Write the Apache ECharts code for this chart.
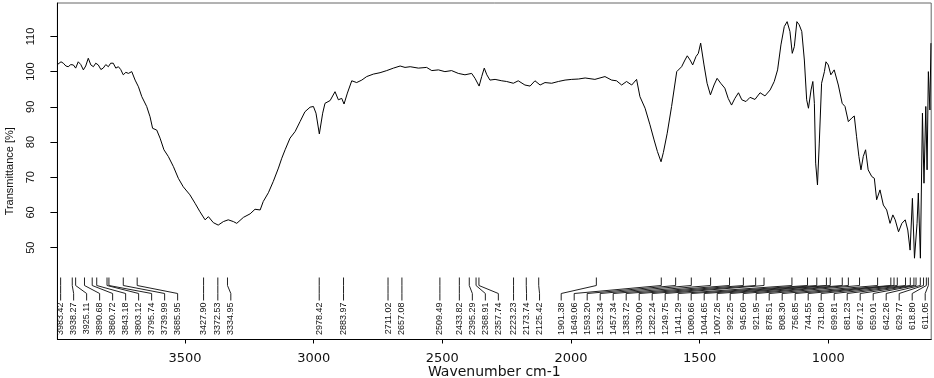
<!DOCTYPE html>
<html>
<head>
<meta charset="utf-8">
<script src="https://cdn.jsdelivr.net/npm/echarts@6/dist/echarts.min.js"></script>
<style>
html,body{margin:0;padding:0;background:#fff;}
#chart{width:934px;height:378px;}
</style>
</head>
<body>
<div id="chart"></div>
<script>
// ---- Data ----
const wavenumbers = [
3996,3992,3982,3973,3963,3954,3944,3934,3925,3915,3905,3895,3886,3876,3866,3856,3847,3837,3827,3818,
3808,3798,3789,3779,3769,3759,3750,3740,3730,3720,3707,3694,3681,3668,3649,3636,3626,3610,3597,3582,
3565,3545,3526,3507,3481,3461,3442,3422,3409,3390,3371,3351,3332,3312,3299,3273,3247,3228,3208,3196,
3176,3157,3137,3124,3111,3092,3072,3053,3034,3014,3001,2991,2978,2965,2956,2936,2917,2904,2891,2882,
2869,2852,2833,2813,2794,2768,2742,2716,2690,2664,2645,2625,2593,2561,2541,2515,2490,2464,2438,2412,
2386,2373,2357,2347,2337,2327,2315,2295,2269,2250,2224,2205,2179,2159,2140,2120,2101,2075,2049,2023,
1997,1971,1945,1907,1868,1842,1823,1803,1784,1764,1745,1732,1712,1693,1677,1664,1650,1641,1626,1609,
1589,1570,1557,1548,1537,1527,1514,1505,1496,1483,1471,1458,1444,1432,1418,1402,1389,1376,1363,1349,
1336,1320,1304,1285,1265,1246,1226,1210,1197,1184,1171,1160,1149,1140,1132,1122,1113,1103,1093,1084,
1077,1067,1060,1054,1049,1042,1035,1026,1015,1009,1000,990,977,961,946,935,922,909,899,890,
881,873,864,855,845,831,821,812,799,786,773,760,749,740,727,714,701,691,682,673,
665,655,650,642,634,628,621,616,611,605,601
];
const transmittance = [
102.0,101.9,102.8,102.4,101.6,101.4,102.0,101.9,101.0,102.8,102.0,100.5,101.6,103.8,101.9,101.4,102.4,101.9,100.6,101.0,
102.0,101.4,102.4,102.4,101.0,101.4,100.6,99.1,99.8,99.5,100.0,97.6,95.7,92.9,90.1,87.2,83.9,83.4,81.1,77.8,
75.9,73.0,69.7,67.3,65.0,62.6,60.2,57.9,58.8,57.1,56.4,57.4,57.9,57.4,56.9,58.6,59.6,60.9,60.7,63.1,
65.6,68.8,72.6,75.4,77.8,81.1,83.0,85.8,88.6,89.9,90.1,88.2,82.3,88.2,91.0,91.8,94.3,92.0,92.4,90.8,
93.9,97.4,96.9,97.6,98.6,99.3,99.7,100.3,101.0,101.6,101.2,101.4,101.0,101.2,100.3,100.5,100.0,100.3,99.5,99.1,
99.5,98.1,95.9,98.6,101.0,99.1,97.6,97.8,97.4,97.2,96.7,97.4,96.2,95.9,97.4,96.2,96.9,96.7,97.2,97.6,
97.8,97.9,98.2,97.8,98.6,97.6,97.4,96.2,97.2,96.2,97.8,92.9,89.6,84.9,80.6,77.3,74.4,77.0,82.5,90.1,
100.0,101.4,103.3,104.5,103.3,101.9,104.3,105.2,108.1,101.9,96.7,93.4,96.2,98.1,96.7,95.3,92.4,90.5,92.4,94.0,
92.0,91.5,92.7,92.1,94.0,93.1,94.8,97.2,100.5,107.6,112.8,114.2,111.4,105.2,107.1,114.2,113.3,111.4,103.3,92.0,
89.6,94.8,97.2,91.0,74.0,67.8,79.7,96.7,100.0,102.8,101.9,99.1,100.5,96.2,91.0,90.1,85.8,86.8,87.4,81.5,
75.9,72.1,75.9,77.8,72.1,70.2,69.7,63.6,66.4,62.1,60.7,56.9,59.3,57.9,54.5,56.9,57.9,55.0,49.3,64.0,
47.0,56.9,65.5,47.0,88.2,68.3,90.1,72.1,100.0,89.1,108.1
];
const peakWavenumbers = [
3983.42,3938.27,3925.11,3890.68,3860.72,3843.18,3803.12,3795.74,3739.99,3685.95,
3427.90,3372.53,3334.95,2978.42,2883.97,2711.02,2657.08,2509.49,2433.82,2395.29,
2368.91,2357.74,2223.23,2173.74,2125.42,1901.38,1649.06,1593.20,1532.34,1457.34,
1383.72,1330.00,1282.24,1249.75,1141.29,1080.66,1044.65,1007.26,992.25,945.60,
921.95,878.51,808.30,756.85,744.55,731.80,699.81,681.23,667.12,659.01,
642.26,629.77,618.80,611.05
];
const xTickValues = [3500, 3000, 2500, 2000, 1500, 1000];
const yTickValues = [50, 60, 70, 80, 90, 100, 110];
const xMin = 600, xMax = 3996;
const yMin = 23.9, yMax = 119.5;

// ---- Chart ----
const chart = echarts.init(document.getElementById('chart'), null, {renderer: 'canvas'});
const spectrum = wavenumbers.map((w, i) => [w, transmittance[i]]);
const measureCtx = document.createElement('canvas').getContext('2d');
function textWidth(s, font) { measureCtx.font = font; return measureCtx.measureText(s).width; }

function layoutPeaks(api) {
  const xs = peakWavenumbers.map(w => api.coord([w, yMin])[0]);
  const gap = 13;
  const pos = xs.slice();
  for (let i = 1; i < pos.length; i++) pos[i] = Math.max(pos[i], pos[i - 1] + gap);
  const rightLimit = api.coord([xMin, yMin])[0] - 6;
  pos[pos.length - 1] = Math.min(pos[pos.length - 1], rightLimit);
  for (let i = pos.length - 2; i >= 0; i--) pos[i] = Math.min(pos[i], pos[i + 1] - gap);
  return {xs, pos};
}

const yLabelFont = '11px "Liberation Sans"';

const option = {
  animation: false,
  backgroundColor: '#fff',
  grid: {left: 57.4, right: 2.8, top: 3, bottom: 38.5, containLabel: false, outerBoundsMode: 'none',
         show: true, borderColor: '#666', borderWidth: 1},
  xAxis: {
    type: 'value', inverse: true, min: xMin, max: xMax,
    name: 'Wavenumber cm-1', nameLocation: 'middle', nameGap: 26, nameMoveOverlap: false,
    nameTextStyle: {fontFamily: 'DejaVu Sans', fontSize: 14, color: '#111'},
    axisLine: {show: true, onZero: false, lineStyle: {color: '#000', width: 1}},
    axisTick: {show: true, length: 4, customValues: xTickValues, lineStyle: {color: '#000'}},
    axisLabel: {customValues: xTickValues, fontFamily: 'DejaVu Sans', fontSize: 13, color: '#111', margin: 13,
                formatter: v => String(v)},
    splitLine: {show: false}
  },
  yAxis: {
    type: 'value', min: yMin, max: yMax,
    name: 'Transmittance [%]', nameLocation: 'middle', nameGap: 42, nameRotate: 90,
    nameTextStyle: {fontFamily: 'Liberation Sans', fontSize: 11, color: '#111'},
    axisLine: {show: true, onZero: false, lineStyle: {color: '#000', width: 1}},
    axisTick: {show: true, length: 7, customValues: yTickValues, lineStyle: {color: '#000'}},
    axisLabel: {show: false},
    splitLine: {show: false}
  },
  series: [
    {
      type: 'line', data: spectrum, showSymbol: false, symbol: 'none',
      lineStyle: {color: '#000', width: 1}, silent: true, clip: true
    },
    {
      type: 'custom', silent: true, clip: false,
      data: peakWavenumbers.map(w => [w, yMin]),
      encode: {x: 0, y: 1},
      renderItem: function (params, api) {
        const i = params.dataIndex;
        const L = layoutPeaks(api);
        const base = api.coord([peakWavenumbers[i], yMin])[1];
        const xp = L.xs[i], xl = L.pos[i];
        return {
          type: 'group',
          children: [
            {type: 'polyline', shape: {points: [[xp, base - 62], [xp, base - 54], [xl, base - 46], [xl, base - 39]]},
             style: {stroke: '#222', lineWidth: 1, fill: null}},
            {type: 'text', x: xl, y: base - 37, rotation: Math.PI / 2,
             style: {text: peakWavenumbers[i].toFixed(2), align: 'right', verticalAlign: 'middle',
                     font: '9px "Liberation Sans"', fill: '#111'}}
          ]
        };
      }
    },
    {
      // rotated y-axis tick labels (same construction as the peak labels)
      type: 'custom', silent: true, clip: false,
      data: yTickValues.map(v => [xMax, v]),
      encode: {x: 0, y: 1},
      renderItem: function (params, api) {
        const v = yTickValues[params.dataIndex];
        const p = api.coord([xMax, v]);
        const s = String(v);
        const w = textWidth(s, yLabelFont);
        return {
          type: 'group',
          children: [
            {type: 'text', x: p[0] - 26, y: p[1] - w / 2, rotation: Math.PI / 2,
             style: {text: s, align: 'right', verticalAlign: 'middle', font: yLabelFont, fill: '#111'}}
          ]
        };
      }
    }
  ]
};
chart.setOption(option);
</script>
</body>
</html>
